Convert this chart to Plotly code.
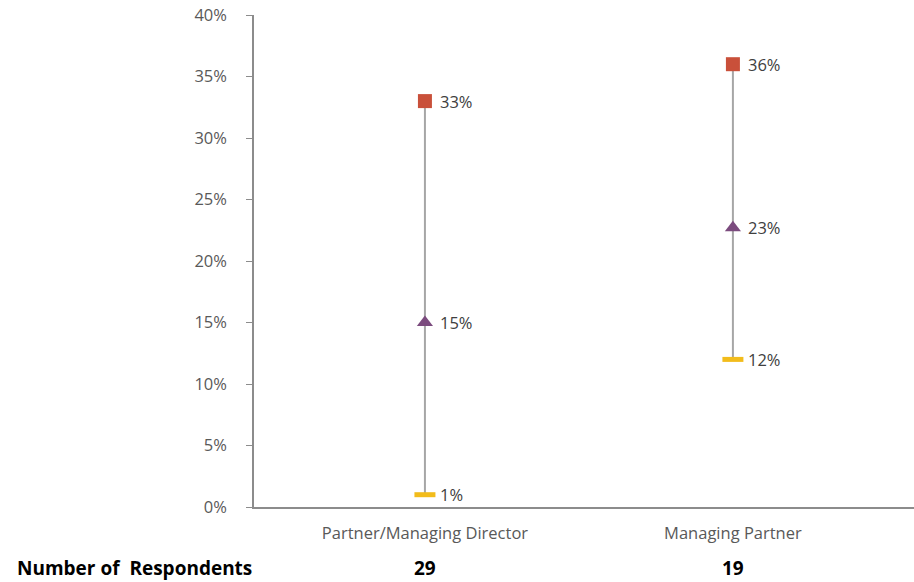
import plotly.graph_objects as go

categories = ["Partner/Managing Director", "Managing Partner"]
respondents = ["29", "19"]
high_vals = [33, 36]
mid_vals = [15, 22.7]
low_vals = [1, 12]
y_ticks = [0, 5, 10, 15, 20, 25, 30, 35, 40]

xs = list(range(len(categories)))
font_family = "Open Sans, Noto Sans, sans-serif"
txt_color = "#404040"

fig = go.Figure()

# vertical range lines
for i in xs:
    fig.add_trace(go.Scatter(
        x=[i, i], y=[low_vals[i], high_vals[i]], mode="lines",
        line=dict(color="#A6A6A6", width=2), hoverinfo="skip", showlegend=False))

def lbl(v):
    return f"{round(v):d}%"

fig.add_trace(go.Scatter(
    x=xs, y=high_vals, mode="markers",
    marker=dict(symbol="square", size=14, color="#C9503A"), showlegend=False))
fig.add_trace(go.Scatter(
    x=xs, y=mid_vals, mode="markers",
    marker=dict(symbol="triangle-up", size=14, color="#7B4B7E"), showlegend=False))
fig.add_trace(go.Scatter(
    x=xs, y=low_vals, mode="markers",
    marker=dict(symbol="line-ew", size=15, line=dict(color="#F2BC1B", width=5)),
    showlegend=False))

for series in (high_vals, mid_vals, low_vals):
    for i, v in zip(xs, series):
        fig.add_annotation(x=i, y=v, xref="x", yref="y", text=lbl(v), showarrow=False,
                           xanchor="left", xshift=13,
                           font=dict(size=16.5, color=txt_color, family=font_family))

# bottom row annotations
fig.add_annotation(x=0, xref="paper", xanchor="right", y=-0.124, yref="paper",
                   yanchor="middle", text="<b>Number of  Respondents</b>", showarrow=False,
                   font=dict(size=19, color="#000000", family=font_family))
for i, r in enumerate(respondents):
    fig.add_annotation(x=i, xref="x", y=-0.124, yref="paper", yanchor="middle",
                       text=f"<b>{r}</b>", showarrow=False,
                       font=dict(size=19, color="#000000", family=font_family))

fig.update_layout(
    width=914, height=582,
    margin=dict(l=254, r=0, t=15, b=75, autoexpand=False),
    plot_bgcolor="white", paper_bgcolor="white",
    font=dict(family=font_family, color="#595959", size=16.5),
    xaxis=dict(range=[-0.555, 1.588], tickvals=xs, ticktext=categories,
               showgrid=False, zeroline=False, showline=True, linecolor="#8C8C8C",
               linewidth=1.5, ticks="", ticklabelstandoff=10,
               tickfont=dict(size=16.5, color="#595959")),
    yaxis=dict(range=[0, 40], tickvals=y_ticks, ticktext=[f"{t}%" for t in y_ticks],
               showgrid=False, zeroline=False, showline=True, linecolor="#8C8C8C",
               linewidth=1.5, ticks="outside", ticklen=6, tickcolor="#8C8C8C",
               ticklabeloverflow="allow",
               ticklabelstandoff=16, tickfont=dict(size=16.5, color="#595959")),
)

fig.write_html("out.html", config={"displayModeBar": False},
               post_script="document.body.style.margin='0';")
